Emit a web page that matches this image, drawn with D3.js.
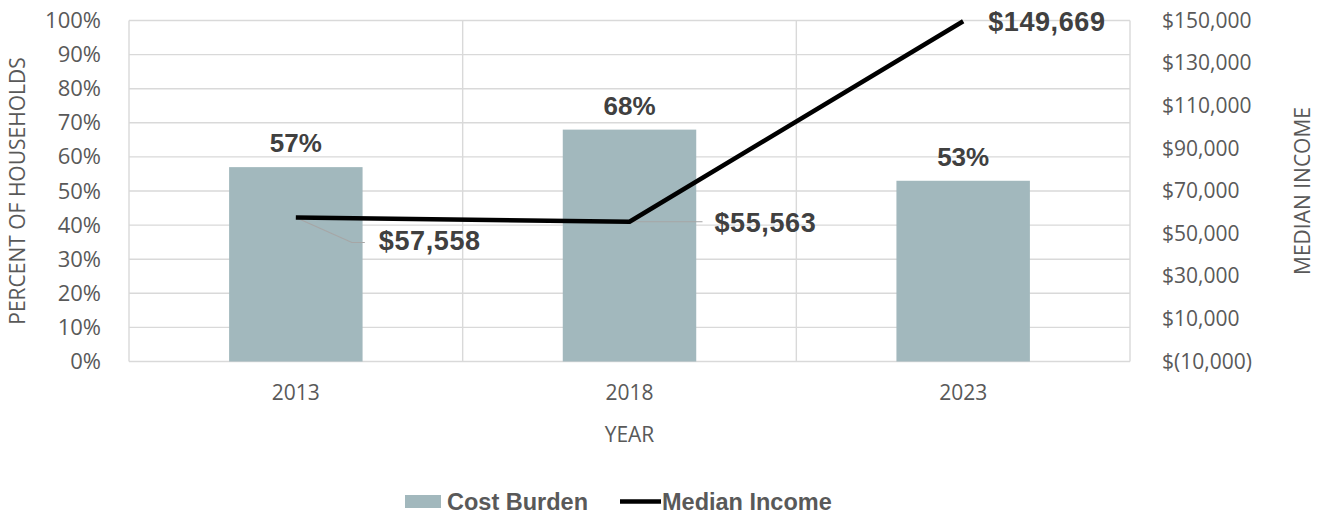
<!DOCTYPE html>
<html>
<head>
<meta charset="utf-8">
<script src="https://cdn.jsdelivr.net/npm/d3@7"></script>
<style>
  body { margin: 0; background: #fff; }
  svg { display: block; }
</style>
</head>
<body>
<svg id="chart" width="1320" height="516"></svg>
<script>
// chart values
const years = ["2013", "2018", "2023"];
const costBurden = [0.57, 0.68, 0.53];
const medianIncome = [57558, 55563, 149669];
const pctTicks = [0, 0.1, 0.2, 0.3, 0.4, 0.5, 0.6, 0.7, 0.8, 0.9, 1];
const incomeTicks = [-10000, 10000, 30000, 50000, 70000, 90000, 110000, 130000, 150000];

// label placement relative to each line point (dx, dy) and leader elbow
const incomeLabelPos = [
  { dx: 83, dy: 32, leader: [[56, 25], [69, 25]] },
  { dx: 85, dy: 10, leader: [[73, 0]] },
  { dx: 25, dy: 10, leader: [] }
];

const chart = { left: 129, right: 1130, top: 20.5, bottom: 361.5 };
const colors = { bar: "#a2b8bd", grid: "#d9d9d9", text: "#595959", label: "#404040", leader: "#a6a6a6" };
const tickFont = "'Open Sans', sans-serif";
const boldFont = "'Liberation Sans', Arial, sans-serif";

const svg = d3.select("#chart");

const x = d3.scaleBand().domain(years).range([chart.left, chart.right]);
const y = d3.scaleLinear().domain([0, 1]).range([chart.bottom, chart.top]);
const y2 = d3.scaleLinear().domain([-10000, 150000]).range([chart.bottom, chart.top]);

// grid
const grid = svg.append("g").attr("stroke", colors.grid).attr("stroke-width", 1.4);
grid.selectAll(".h").data(pctTicks).enter().append("line")
  .attr("x1", chart.left).attr("x2", chart.right)
  .attr("y1", d => y(d)).attr("y2", d => y(d));
const vx = years.map(d => x(d)).concat([chart.right]);
grid.selectAll(".v").data(vx).enter().append("line")
  .attr("x1", d => d).attr("x2", d => d)
  .attr("y1", chart.top).attr("y2", chart.bottom);

// left axis
const yAxis = d3.axisLeft(y).tickValues(pctTicks).tickFormat(d3.format(".0%")).tickSize(0).tickPadding(28);
svg.append("g").attr("transform", `translate(${chart.left},0)`).call(yAxis)
  .call(g => g.select(".domain").remove())
  .selectAll("text").attr("font-family", tickFont).attr("font-size", 22).attr("fill", colors.text);

// right axis
const moneyFmt = d => d < 0 ? "$(" + d3.format(",")(-d) + ")" : "$" + d3.format(",")(d);
const y2Axis = d3.axisRight(y2).tickValues(incomeTicks).tickFormat(moneyFmt).tickSize(0).tickPadding(32);
svg.append("g").attr("transform", `translate(${chart.right},0)`).call(y2Axis)
  .call(g => g.select(".domain").remove())
  .selectAll("text").attr("font-family", tickFont).attr("font-size", 21).attr("fill", colors.text);

// bottom axis
const xAxis = d3.axisBottom(x).tickSize(0).tickPadding(24);
svg.append("g").attr("transform", `translate(0,${chart.bottom})`).call(xAxis)
  .call(g => g.select(".domain").remove())
  .selectAll("text").attr("font-family", tickFont).attr("font-size", 21).attr("fill", colors.text);

// axis titles
svg.append("text")
  .attr("transform", `translate(25,${(chart.top + chart.bottom) / 2}) rotate(-90)`)
  .attr("text-anchor", "middle")
  .attr("font-family", tickFont).attr("font-size", 21).attr("fill", colors.text)
  .text("PERCENT OF HOUSEHOLDS");
svg.append("text")
  .attr("transform", `translate(1310,${(chart.top + chart.bottom) / 2}) rotate(-90)`)
  .attr("text-anchor", "middle")
  .attr("font-family", tickFont).attr("font-size", 21).attr("fill", colors.text)
  .text("MEDIAN INCOME");
svg.append("text")
  .attr("x", (chart.left + chart.right) / 2).attr("y", 442)
  .attr("text-anchor", "middle")
  .attr("font-family", tickFont).attr("font-size", 21).attr("fill", colors.text)
  .text("YEAR");

// bars
const barW = x.bandwidth() * 0.4;
const barData = years.map((yr, i) => ({ year: yr, value: costBurden[i] }));
svg.append("g").selectAll("rect").data(barData).enter().append("rect")
  .attr("x", d => x(d.year) + x.bandwidth() / 2 - barW / 2)
  .attr("y", d => y(d.value))
  .attr("width", barW)
  .attr("height", d => y(0) - y(d.value))
  .attr("fill", colors.bar);

svg.append("g").selectAll("text").data(barData).enter().append("text")
  .attr("x", d => x(d.year) + x.bandwidth() / 2)
  .attr("y", d => y(d.value) - 15)
  .attr("text-anchor", "middle")
  .attr("font-family", boldFont).attr("font-weight", "bold").attr("font-size", 26)
  .attr("fill", colors.label)
  .text(d => d3.format(".0%")(d.value));

// income line
const lineData = years.map((yr, i) => ({ year: yr, value: medianIncome[i], pos: incomeLabelPos[i] }));
const px = d => x(d.year) + x.bandwidth() / 2;
const line = d3.line().x(px).y(d => y2(d.value));

// leaders
svg.append("g").selectAll("path").data(lineData.filter(d => d.pos.leader.length)).enter().append("path")
  .attr("d", d => {
    const p = [[px(d), y2(d.value)]].concat(d.pos.leader.map(l => [px(d) + l[0], y2(d.value) + l[1]]));
    return d3.line()(p);
  })
  .attr("fill", "none").attr("stroke", colors.leader).attr("stroke-width", 1.2);

svg.append("path").datum(lineData)
  .attr("d", line)
  .attr("fill", "none").attr("stroke", "#000").attr("stroke-width", 4.5)
  .attr("stroke-linejoin", "round");

svg.append("g").selectAll("text").data(lineData).enter().append("text")
  .attr("x", d => px(d) + d.pos.dx)
  .attr("y", d => y2(d.value) + d.pos.dy)
  .attr("font-family", boldFont).attr("font-weight", "bold").attr("font-size", 27)
  .attr("letter-spacing", 0.6)
  .attr("fill", colors.label)
  .text(d => "$" + d3.format(",")(d.value));

// legend
const legend = svg.append("g");
legend.append("rect").attr("x", 405).attr("y", 495).attr("width", 36).attr("height", 13).attr("fill", colors.bar);
legend.append("text").attr("x", 447).attr("y", 510)
  .attr("font-family", boldFont).attr("font-weight", "bold").attr("font-size", 23.5).attr("fill", colors.text)
  .text("Cost Burden");
legend.append("line").attr("x1", 620).attr("x2", 661).attr("y1", 501.5).attr("y2", 501.5)
  .attr("stroke", "#000").attr("stroke-width", 4.5);
legend.append("text").attr("x", 662).attr("y", 510)
  .attr("font-family", boldFont).attr("font-weight", "bold").attr("font-size", 23.5).attr("fill", colors.text)
  .text("Median Income");
</script>
</body>
</html>
